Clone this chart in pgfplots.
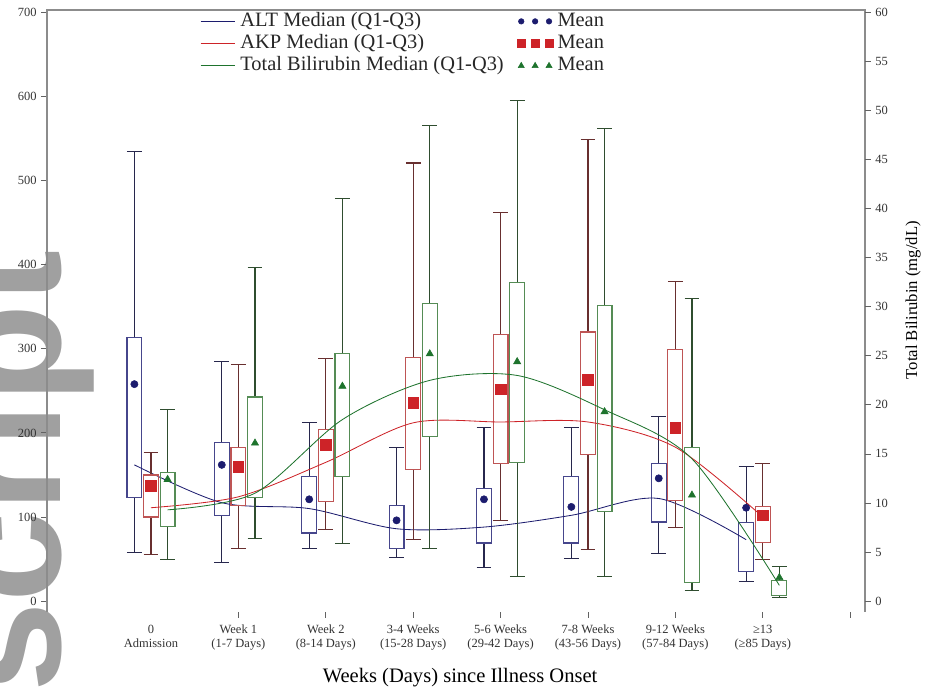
\documentclass[border=0pt]{standalone}
\usepackage{fontspec}
\setmainfont{Liberation Serif}
\newfontfamily\wmfont{Liberation Sans}
\usepackage{pgfplots}
\pgfplotsset{compat=1.18}
\usepgfplotslibrary{statistics}

\definecolor{altc}{RGB}{28,28,110}
\definecolor{akpc}{RGB}{205,35,40}
\definecolor{tbc}{RGB}{30,115,45}
\definecolor{altbox}{RGB}{70,70,140}
\definecolor{akpbox}{RGB}{190,85,85}
\definecolor{tbbox}{RGB}{85,140,85}
\definecolor{wm}{RGB}{160,160,160}
\definecolor{axgray}{RGB}{140,140,140}

% position, lower whisker, Q1, median, Q3, upper whisker, colour
\newcommand\bx[7]{%
  \addplot[draw=#7, line width=0.8pt, forget plot,
    boxplot/every whisker/.style={draw=#7!55!black},
    boxplot prepared={draw position=#1, lower whisker=#2, lower quartile=#3,
      median=#4, upper quartile=#5, upper whisker=#6}] coordinates {};}

\pgfplotsset{
  meanlegend/.style={legend image code/.code={%
    \draw[mark repeat=1,mark phase=1,##1] plot coordinates {(0pt,0pt) (10pt,0pt) (20pt,0pt)};}},
  medlegend/.style={legend image code/.code={\draw[##1] (0pt,0pt) -- (25pt,0pt);}},
  common/.style={
    at={(0pt,0pt)}, anchor=south west, scale only axis,
    width=588.96pt, height=433.44pt,
    xmin=-1.19, xmax=8.17,
    axis line style={draw=none},
    tick align=outside, major tick length=4pt,
    tick style={draw=axgray!70!black, line width=0.6pt},
    /pgf/number format/assume math mode=true,
    ticklabel style={font=\fontsize{9}{10}\selectfont, text=black!80},
    clip=false,
    boxplot/draw direction=y,
    boxplot/box extend=0.17,
    boxplot/whisker extend=0.17,
    boxplot/draw/median/.code={},
  },
}

\begin{document}
\begin{tikzpicture}
\path[use as bounding box] (-33.84pt,-56.88pt) rectangle (635.76pt,440.64pt);
\begin{scope}
\clip (-33.84pt,-56.88pt) rectangle (635.76pt,440.64pt);
\node[rotate=90, anchor=base east, inner sep=0pt, text=wm,
  font=\wmfont\bfseries\fontsize{117}{117}\selectfont] at (9.36pt,260.6pt) {Manuscript};
\end{scope}

\begin{axis}[common,
  ymin=-13, ymax=703,
  xtick={1,...,8},
  xticklabels={{Week 1\\(1-7 Days)},{Week 2\\(8-14 Days)},
    {3-4 Weeks\\(15-28 Days)},{5-6 Weeks\\(29-42 Days)},{7-8 Weeks\\(43-56 Days)},
    {9-12 Weeks\\(57-84 Days)},{≥13\\(≥85 Days)},{}},
  extra x ticks={0},
  extra x tick labels={{0\\Admission}},
  extra x tick style={tick style={draw=none}},
  xticklabel style={align=center, font=\fontsize{9}{10}\selectfont, yshift=-2pt},
  ytick={0,100,...,700},
  xtick pos=bottom, ytick pos=left,
  xlabel={Weeks (Days) since Illness Onset},
  every axis x label/.style={at={(rel axis cs:0.505,0)}, anchor=center,
    yshift=-47pt, font=\fontsize{14.8}{16}\selectfont},
]
\draw[axgray, line width=1pt] (rel axis cs:0,0) -- (rel axis cs:0,1)
  -- (rel axis cs:1,1) -- (rel axis cs:1,0);

% ALT
\bx{-0.19}{58}{123}{162}{314}{535}{altbox}
\bx{0.81}{46}{102}{117}{189}{285}{altbox}
\bx{1.81}{63}{81}{110}{148}{212}{altbox}
\bx{2.81}{52}{63}{86}{114}{183}{altbox}
\bx{3.81}{40}{69}{88}{134}{206}{altbox}
\bx{4.81}{51}{69}{102}{148}{206}{altbox}
\bx{5.81}{57}{94}{122}{164}{219}{altbox}
\bx{6.81}{23}{35}{73}{93}{160}{altbox}
\addplot[smooth, tension=0.5, altc, line width=0.6pt, forget plot] coordinates {
  (-0.19,162) (0.81,117) (1.81,110) (2.81,86) (3.81,88) (4.81,102) (5.81,122) (6.81,73)};
\addplot[only marks, mark=*, mark size=2.6pt, altc, forget plot] coordinates {
  (-0.19,258) (0.81,162) (1.81,121) (2.81,96) (3.81,121) (4.81,112) (5.81,146) (6.81,111)};

% AKP
\bx{0}{55}{100}{111}{150}{177}{akpbox}
\bx{1}{63}{114}{124}{183}{281}{akpbox}
\bx{2}{85}{118}{165}{204}{289}{akpbox}
\bx{3}{73}{156}{212}{290}{521}{akpbox}
\bx{4}{96}{164}{213}{317}{462}{akpbox}
\bx{5}{61}{174}{213}{320}{549}{akpbox}
\bx{6}{88}{120}{183}{299}{380}{akpbox}
\bx{7}{49}{70}{100}{112}{164}{akpbox}
\addplot[smooth, tension=0.5, akpc, line width=0.6pt, forget plot] coordinates {
  (0,111) (1,124) (2,165) (3,212) (4,213) (5,213) (6,183) (7,100)};
\addplot[only marks, mark=square*, mark size=3.8pt, akpc, forget plot] coordinates {
  (0,137) (1,160) (2,186) (3,236) (4,252) (5,263) (6,206) (7,102)};
\end{axis}

\begin{axis}[common,
  ymin=-1.114, ymax=60.257,
  axis x line=none, axis y line*=right,
  ytick={0,5,...,60},
  ylabel={Total Bilirubin (mg/dL)},
  every axis y label/.style={at={(rel axis cs:1.0587,0.518)}, rotate=90,
    anchor=center, font=\fontsize{12}{13}\selectfont},
  legend columns=2, legend cell align=left,
  legend style={at={(rel axis cs:0.187,1.0)}, anchor=north west,
    draw=none, fill=none, inner sep=0pt, text=black!85,
    font=\fontsize{14.7}{15}\selectfont,
    /tikz/every even column/.append style={column sep=9pt},
    /tikz/every odd column/.append style={column sep=2.5pt},
    nodes={inner sep=0.8pt, text height=10.8pt, text depth=3.6pt}},
]
\addlegendimage{medlegend, altc, line width=0.6pt}
\addlegendentry{ALT Median (Q1-Q3)}
\addlegendimage{meanlegend, only marks, mark=*, mark size=2pt, altc}
\addlegendentry{Mean}
\addlegendimage{medlegend, akpc, line width=0.6pt}
\addlegendentry{AKP Median (Q1-Q3)}
\addlegendimage{meanlegend, only marks, mark=square*, mark size=2.8pt, akpc}
\addlegendentry{Mean}
\addlegendimage{medlegend, tbc, line width=0.6pt}
\addlegendentry{Total Bilirubin Median (Q1-Q3)}
\addlegendimage{meanlegend, only marks, mark=triangle*, mark size=2.5pt, tbc}
\addlegendentry{Mean}

% Total bilirubin
\bx{0.19}{4.2}{7.6}{9.3}{13.1}{19.5}{tbbox}
\bx{1.19}{6.4}{10.6}{11}{20.8}{34}{tbbox}
\bx{2.19}{5.9}{12.7}{18.5}{25.2}{41}{tbbox}
\bx{3.19}{5.4}{16.8}{22.5}{30.3}{48.5}{tbbox}
\bx{4.19}{2.5}{14.1}{23}{32.5}{51}{tbbox}
\bx{5.19}{2.5}{9.1}{19.5}{30.1}{48.2}{tbbox}
\bx{6.19}{1.1}{1.9}{14.5}{15.7}{30.8}{tbbox}
\bx{7.19}{0.4}{0.6}{1.6}{2.1}{3.5}{tbbox}
\addplot[smooth, tension=0.5, tbc, line width=0.6pt, forget plot] coordinates {
  (0.19,9.3) (1.19,11) (2.19,18.5) (3.19,22.5) (4.19,23) (5.19,19.5) (6.19,14.5) (7.19,1.6)};
\addplot[only marks, mark=triangle*, mark size=3pt, tbc, forget plot] coordinates {
  (0.19,12.4) (1.19,16.1) (2.19,21.9) (3.19,25.2) (4.19,24.4) (5.19,19.3) (6.19,10.8) (7.19,2.4)};
\end{axis}
\end{tikzpicture}
\end{document}
